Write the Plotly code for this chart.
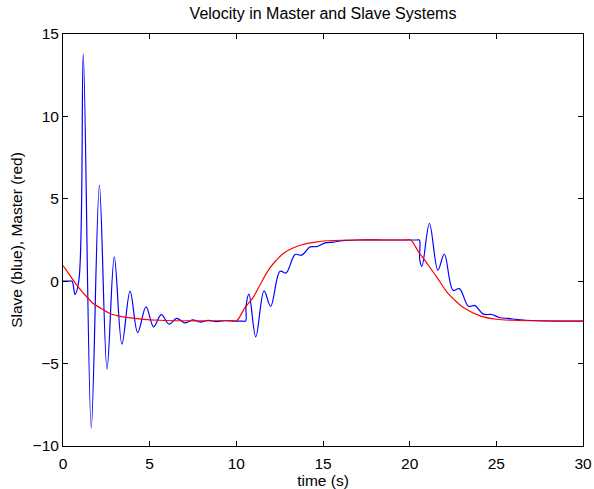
import plotly.graph_objects as go

# Slave (blue) velocity samples
slave_t = [0, 0.3, 0.52, 0.69, 0.92, 1.17, 1.63, 2.10, 2.54, 2.96, 3.40, 3.87, 4.31, 4.79,
           5.23, 5.67, 6.12, 6.56, 7.02, 7.48, 7.92, 8.38, 8.84, 9.3, 10.0, 10.4, 10.54,
           10.56, 10.73, 11.12, 11.6, 11.98, 12.52, 12.87, 13.39, 13.77, 14.25, 14.64,
           15.12, 15.6, 15.98, 16.5, 17.0, 18.5, 20.0, 20.4, 20.56, 20.58, 20.71, 21.14,
           21.63, 22.0, 22.5, 22.87, 23.39, 23.77, 24.25, 24.73, 25.21, 25.69, 26.2, 26.7,
           27.5, 28.5, 30]
slave_v = [0, 0, 0, -0.8, 0.1, 13.8, -8.9, 5.82, -5.34, 1.48, -3.82, -0.6, -3.12, -1.56,
           -2.77, -2.03, -2.61, -2.25, -2.53, -2.35, -2.48, -2.38, -2.45, -2.40, -2.42, -2.42, -2.42,
           -1.5, -0.79, -3.38, -0.59, -1.52, 0.6, 0.5, 1.62, 1.58, 2.08, 2.1,
           2.33, 2.37, 2.45, 2.48, 2.5, 2.5, 2.5, 2.5, 2.5, 1.3, 0.91, 3.5,
           0.67, 1.65, -0.55, -0.45, -1.52, -1.48, -2.0, -2.02, -2.22, -2.26, -2.33, -2.37,
           -2.4, -2.42, -2.42]

# Master (red) velocity samples
master_t = [0, 0.4, 0.79, 1.2, 1.75, 2.2, 2.71, 3.2, 3.67, 4.5, 5.6, 7.0, 8.5, 9.6, 10.02,
            10.5, 10.98, 11.4, 11.85, 12.2, 12.71, 13.2, 13.68, 14.64, 15.6, 17.0, 18.5, 19.7, 20.06,
            20.5, 20.98, 21.56, 22.14, 22.6, 23.1, 24.06, 25.02, 25.98, 27.0, 28.5, 30]
master_v = [0.95, 0.35, -0.24, -0.75, -1.35, -1.65, -1.96, -2.1, -2.2, -2.3, -2.37, -2.4, -2.4, -2.4, -2.4,
            -1.6, -0.97, -0.15, 0.67, 1.15, 1.68, 1.98, 2.18, 2.39, 2.47, 2.5, 2.5, 2.5, 2.5,
            1.8, 1.11, 0.26, -0.65, -1.15, -1.6, -2.1, -2.31, -2.37, -2.4, -2.42, -2.42]

x_ticks = [0, 5, 10, 15, 20, 25, 30]
y_ticks = [-10, -5, 0, 5, 10, 15]

font = "Liberation Sans, Arial, Helvetica, sans-serif"

fig = go.Figure()
fig.add_trace(go.Scatter(x=slave_t, y=slave_v, mode="lines",
                         line=dict(color="#0000ff", width=1.2, shape="spline", smoothing=1.0),
                         showlegend=False))
fig.add_trace(go.Scatter(x=master_t, y=master_v, mode="lines",
                         line=dict(color="#ff0000", width=1.2, shape="spline", smoothing=0.8),
                         showlegend=False))

axis_common = dict(showline=True, linecolor="black", linewidth=1, mirror="ticks",
                   ticks="inside", ticklen=5, tickcolor="black", tickwidth=1,
                   showgrid=False, zeroline=False, automargin=False,
                   tickfont=dict(family=font, size=15.5, color="black"))

fig.update_layout(
    width=594, height=489,
    margin=dict(l=63, r=11, t=34, b=43),
    paper_bgcolor="white", plot_bgcolor="white",
    title=dict(text="Velocity in Master and Slave Systems", x=0.5, xref="paper",
               y=1, yref="container", yanchor="top", pad=dict(t=8),
               font=dict(family=font, size=16, color="black")),
    xaxis=dict(range=[0, 30], tickvals=x_ticks, ticklabelstandoff=3,
               title=dict(text="time (s)", standoff=2, font=dict(family=font, size=15.5, color="black")),
               **axis_common),
    yaxis=dict(range=[-10, 15], tickvals=y_ticks,
               title=dict(text="Slave (blue), Master (red)", standoff=6,
                          font=dict(family=font, size=15.5, color="black")),
               **axis_common),
)

fig.write_html("out.html")
